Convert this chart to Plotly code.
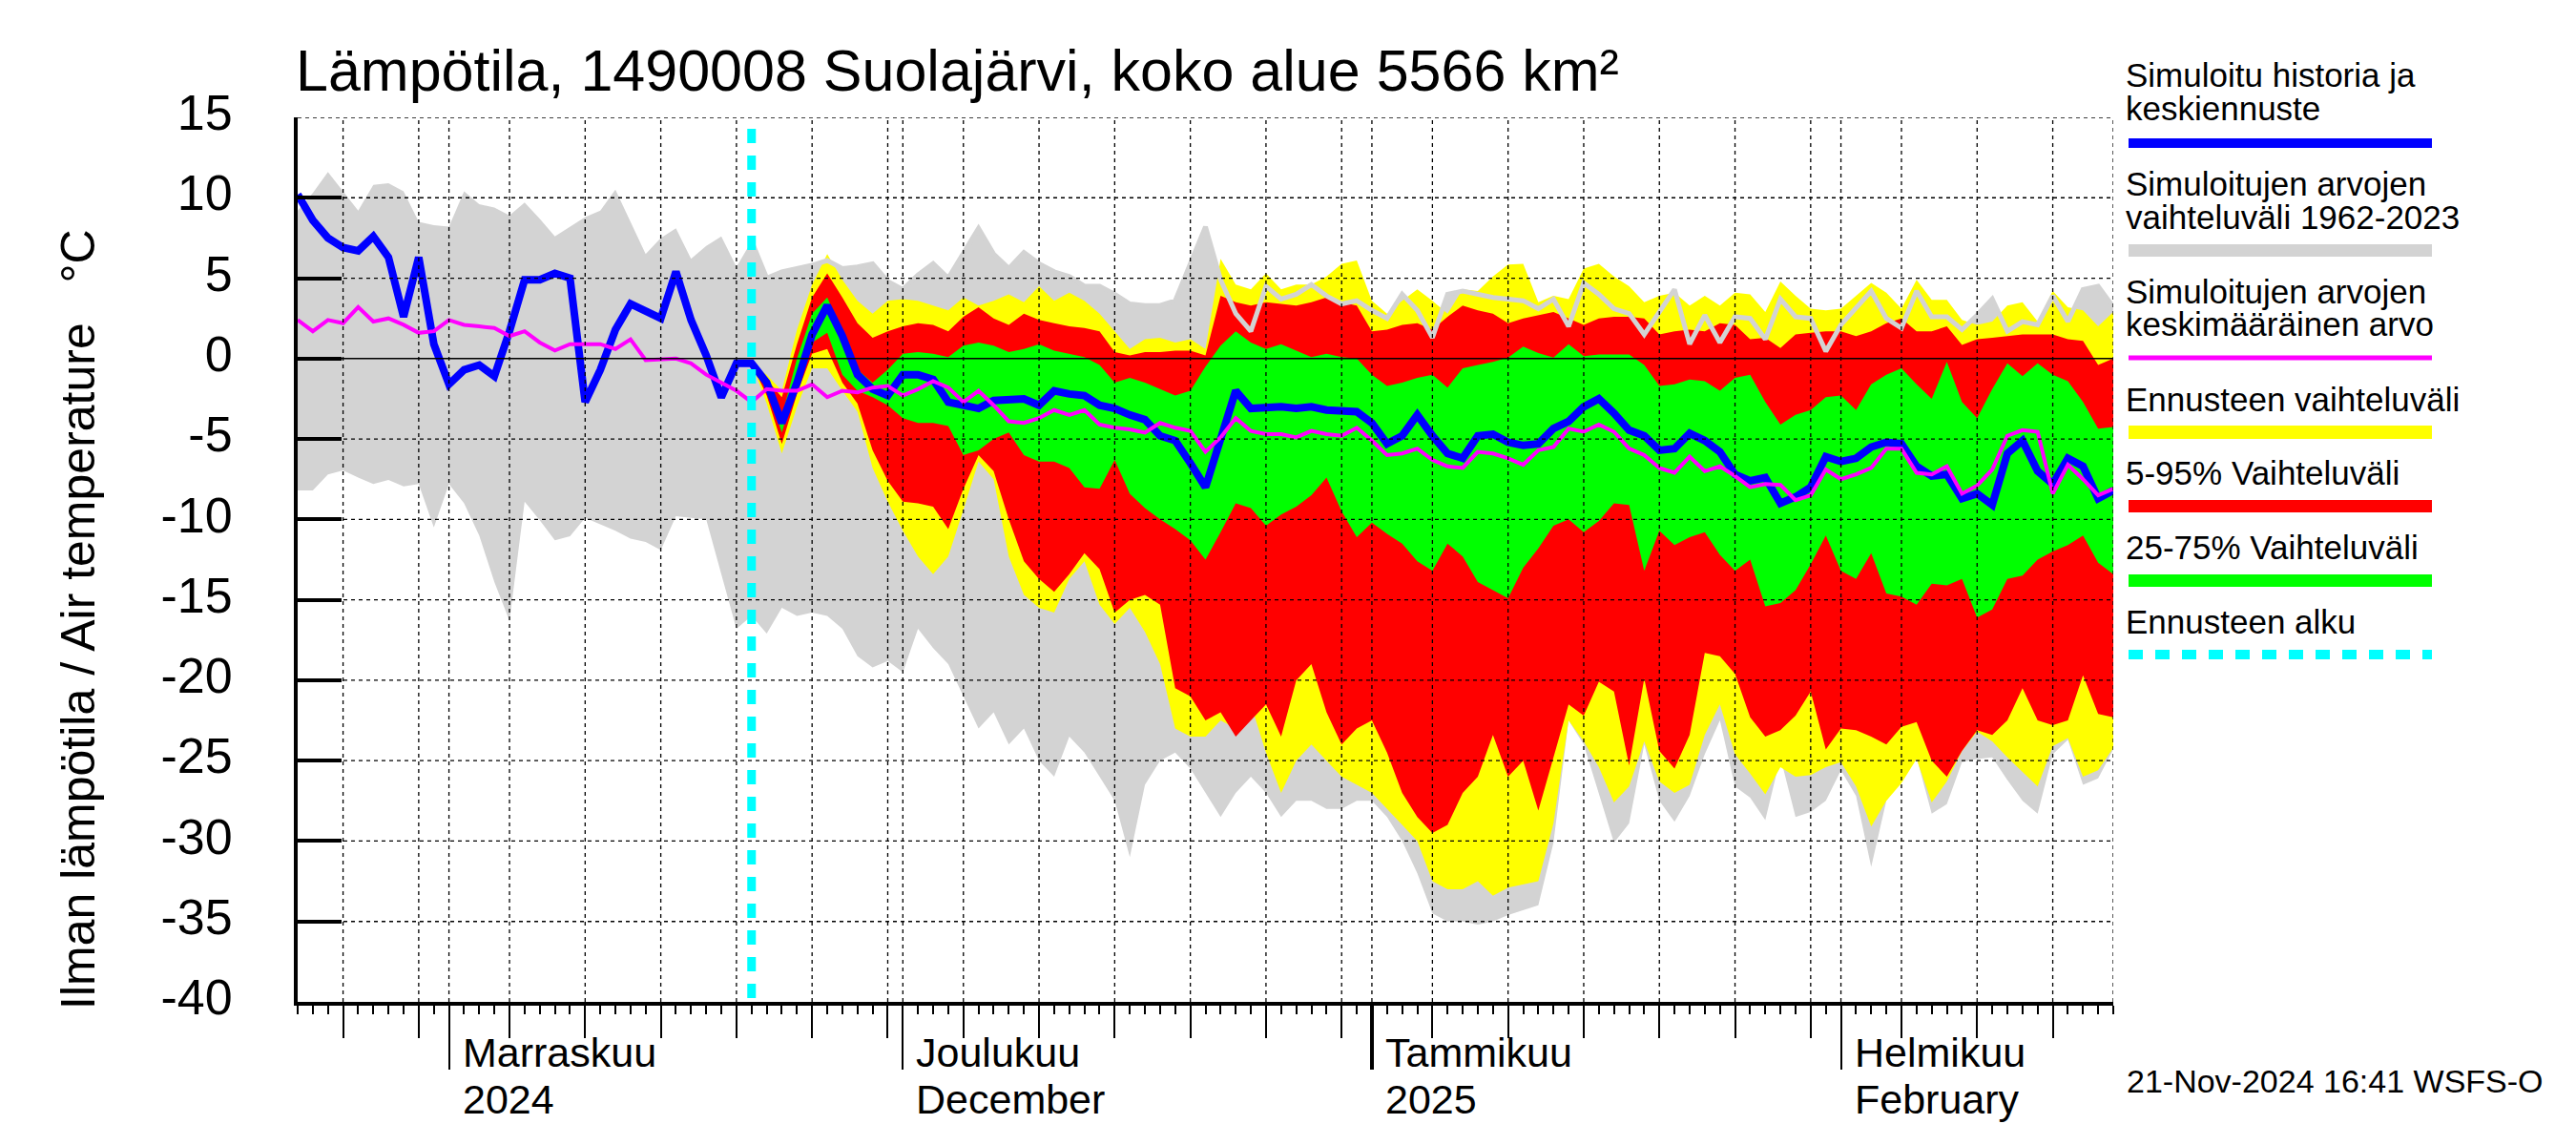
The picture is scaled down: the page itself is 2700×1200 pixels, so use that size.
import pandas as pd
import plotly.graph_objects as go

# ---------------- data (daily, 2024-10-22 .. 2025-02-19) ----------------
START = "2024-10-22"
N_DAYS = 121
FC_START = 30  # index of 2024-11-21 (forecast start)

blue = [
    10.2, 8.6, 7.5, 6.9, 6.7, 7.6, 6.3, 2.6, 6.3, 0.9,
    -1.6, -0.7, -0.4, -1.1, 1.7, 4.9, 4.9, 5.3, 5.0, -2.7,
    -0.7, 1.8, 3.4, 3.0, 2.5, 5.4, 2.4, 0.2, -2.4, -0.3,
    -0.3, -1.5, -4.0, -1.5, 1.5, 3.3, 1.4, -1.0, -1.9, -2.3,
    -1.0, -1.0, -1.3, -2.7, -2.9, -3.1, -2.6, -2.5, -2.5, -2.9,
    -2.0, -2.2, -2.3, -2.9, -3.1, -3.5, -3.8, -4.8, -5.1, -6.5,
    -8.0, -5.0, -2.0, -3.1, -3.0, -3.0, -3.1, -3.0, -3.2, -3.3,
    -3.3, -4.0, -5.3, -4.8, -3.5, -4.8, -5.9, -6.2, -4.8, -4.7,
    -5.2, -5.4, -5.3, -4.35, -3.9, -3.0, -2.5, -3.4, -4.45, -4.8,
    -5.7, -5.6, -4.65, -5.1, -5.8, -7.2, -7.6, -7.4, -9.0, -8.6,
    -8.0, -6.1, -6.4, -6.2, -5.5, -5.2, -5.3, -6.7, -7.3, -7.2,
    -8.7, -8.4, -9.1, -5.9, -5.1, -7.0, -7.8, -6.2, -6.7, -8.7,
    -8.2,
]

magenta = [
    2.4, 1.7, 2.4, 2.2, 3.2, 2.3, 2.5, 2.1, 1.6, 1.7,
    2.4, 2.1, 2.0, 1.9, 1.4, 1.7, 1.0, 0.5, 0.9, 0.9,
    0.9, 0.6, 1.2, -0.1, -0.05, 0.0, -0.3, -1.0, -1.5, -2.0,
    -2.7, -1.9, -2.0, -2.0, -1.6, -2.4, -2.0, -2.1, -1.8, -1.7,
    -2.3, -1.9, -1.4, -1.8, -2.7, -2.0, -2.9, -3.9, -4.0, -3.7,
    -3.2, -3.5, -3.2, -4.1, -4.3, -4.4, -4.6, -4.0, -4.3, -4.5,
    -5.8, -4.9, -3.7, -4.5, -4.7, -4.7, -4.9, -4.5, -4.7, -4.8,
    -4.3, -5.1, -6.0, -5.9, -5.6, -6.3, -6.7, -6.8, -5.8, -5.9,
    -6.2, -6.6, -5.7, -5.5, -4.35, -4.55, -4.1, -4.55, -5.6, -6.0,
    -6.8, -7.1, -6.1, -7.0, -6.7, -7.3, -8.0, -7.8, -7.85, -8.8,
    -8.5, -6.9, -7.5, -7.2, -6.8, -5.6, -5.6, -7.1, -7.2, -6.7,
    -8.4, -7.9, -6.9, -4.8, -4.45, -4.55, -8.4, -6.6, -7.5, -8.5,
    -8.1,
]

gray_top = [
    9.2, 10.3, 11.6, 10.4, 9.2, 10.8, 10.9, 10.4, 8.5, 8.3,
    8.2, 10.4, 9.6, 9.4, 8.9, 9.7, 8.7, 7.6, 8.2, 8.8,
    9.2, 10.5, 8.5, 6.5, 7.5, 8.1, 6.2, 7.0, 7.6, 5.7,
    7.3, 5.0, 5.4, 5.6, 5.8, 6.1, 5.6, 5.7, 5.9, 4.8,
    4.3, 5.2, 5.9, 5.0, 6.5, 8.1, 6.5, 5.6, 6.6, 5.9,
    5.4, 5.1, 4.5, 4.5, 4.0, 3.4, 3.3, 3.3, 3.6, 6.0,
    8.2, 4.9, 2.8, 1.7, 4.5, 3.7, 4.0, 4.6, 3.9, 3.4,
    3.6, 3.0, 2.5, 4.0, 3.0, 1.3, 4.0, 4.2, 4.0, 3.8,
    3.7, 3.6, 3.1, 3.7, 2.0, 4.7, 4.0, 3.1, 2.8, 1.5,
    2.9, 4.3, 0.9, 2.7, 1.0, 2.6, 2.5, 1.2, 3.7, 2.6,
    2.5, 0.45, 2.1, 3.2, 4.2, 2.5, 1.9, 4.2, 2.6, 2.6,
    1.8, 2.7, 3.7, 1.7, 2.3, 2.1, 3.9, 2.3, 4.3, 4.5,
    3.2,
]

gray_bot = [
    -8.2, -8.2, -7.2, -6.95, -7.4, -7.8, -7.55, -7.95, -7.8, -10.5,
    -7.8, -9.0, -11.0, -13.9, -16.3, -8.9, -10.05, -11.3, -11.05, -9.9,
    -10.3, -10.7, -11.2, -11.4, -11.9, -9.8, -9.9, -10.0, -13.4, -16.8,
    -16.0, -17.1, -15.5, -16.0, -15.8, -16.0, -16.8, -18.5, -19.2, -18.8,
    -19.5, -16.8, -18.0, -19.0, -21.0, -23.0, -22.0, -24.0, -23.0, -25.0,
    -26.0, -23.5, -24.5, -26.0, -27.5, -31.0, -26.5, -25.0, -24.5, -25.5,
    -27.0, -28.5, -27.0, -26.0, -27.0, -28.5, -27.5, -27.5, -28.0, -28.0,
    -27.5, -27.5, -28.5, -30.0, -32.0, -34.5, -35.0, -35.0, -35.2, -35.0,
    -34.6, -34.3, -34.0, -30.1, -22.5, -24.0, -27.0, -30.1, -28.9, -24.0,
    -27.5, -28.8, -27.2, -24.6, -22.5, -26.6, -27.3, -28.7, -24.8, -28.5,
    -28.2, -27.5, -25.6, -27.2, -31.6, -27.5, -26.2, -24.8, -28.3, -27.7,
    -25.1, -24.9, -24.8, -26.2, -27.5, -28.3, -24.6, -23.7, -26.5, -26.1,
    -24.3,
]

# forecast bands (2024-11-21 .. 2025-02-19)
yel_top = [
    -0.3, -1.0, -2.0, 1.8, 4.6, 6.5, 4.9, 3.6, 2.8, 3.6,
    3.7, 3.6, 3.3, 3.0, 3.8, 3.3, 3.6, 4.0, 3.5, 4.5,
    3.6, 4.1, 3.6, 2.8, 1.7, 0.6, 1.2, 1.3, 1.0, 1.2,
    0.6, 6.2, 4.6, 4.3, 5.3, 4.3, 4.6, 4.6, 5.1, 5.9,
    6.1, 3.6, 2.8, 3.6, 4.3, 3.6, 2.8, 4.3, 4.2, 5.1,
    5.85, 5.9, 3.5, 3.9, 3.7, 5.6, 5.9, 5.1, 4.5, 3.5,
    3.9, 4.1, 3.3, 3.9, 3.3, 4.1, 4.0, 2.9, 4.8, 3.9,
    3.1, 3.0, 3.1, 3.9, 4.7, 4.1, 3.1, 4.9, 3.65, 3.65,
    2.4, 2.1, 2.3, 3.3, 3.5, 2.3, 4.2, 3.2, 3.0, 2.0,
    2.9,
]
red_top = [
    -0.3, -1.3, -2.4, 0.9, 3.8, 5.3, 3.8, 2.2, 1.3, 1.7,
    2.0, 2.2, 2.1, 1.7, 2.6, 3.2, 2.5, 2.1, 2.8, 2.4,
    2.2, 2.0, 1.9, 1.7, 0.4, 0.2, 0.4, 0.4, 0.5, 0.5,
    0.2, 3.9, 3.5, 3.3, 3.5, 3.4, 3.3, 3.5, 3.8, 3.5,
    3.3, 1.7, 1.8, 2.1, 2.2, 1.8, 2.6, 3.3, 3.0, 2.8,
    2.2, 2.5, 2.7, 2.9, 2.5, 2.1, 2.5, 2.6, 2.6, 2.5,
    1.5, 1.7, 1.8, 1.7, 2.2, 2.1, 1.2, 1.3, 0.65, 1.5,
    1.6, 1.7, 1.7, 1.4, 1.7, 2.2, 2.5, 1.7, 1.7, 2.0,
    0.85, 1.2, 1.3, 1.4, 1.5, 1.5, 1.5, 1.2, 1.1, -0.4,
    0.0,
]
grn_top = [
    -0.3, -1.5, -3.6, 0.0, 2.8, 3.8, 1.7, -0.7, -1.5, -0.7,
    0.3, 0.4, 0.3, 0.1, 0.8, 1.0, 0.8, 0.4, 0.6, 0.9,
    0.5, 0.3, 0.1, -0.4, -1.5, -1.2, -1.5, -1.9, -2.3, -2.0,
    -0.5, 0.8, 1.7, 1.0, 0.6, 0.9, 0.5, 0.1, 0.3, 0.1,
    0.0, -1.0, -1.7, -1.5, -1.2, -1.0, -1.8, -0.6, -0.4, -0.2,
    0.06, 0.75, 0.35, 0.06, 0.9, 0.15, 0.25, 0.25, 0.25, -0.4,
    -1.7, -1.6, -1.3, -1.4, -2.0, -1.2, -1.0, -2.7, -4.1, -3.5,
    -3.2, -2.4, -2.3, -3.2, -1.6, -1.0, -0.6, -1.6, -2.5, -0.2,
    -2.7, -3.7, -1.9, -0.3, -1.1, -0.3, -1.0, -1.4, -2.7, -4.35,
    -4.25,
]
grn_bot = [
    -0.3, -1.8, -4.6, -1.4, 1.0, 1.6, -1.0, -2.0, -2.4, -2.9,
    -3.7, -4.0, -4.0, -4.2, -6.0, -5.7, -5.0, -4.6, -6.0, -6.4,
    -6.4, -6.8, -8.0, -8.1, -6.3, -8.4, -9.3, -10.0, -10.6, -11.3,
    -12.5, -10.8, -9.0, -9.3, -10.4, -9.7, -9.2, -8.5, -7.4, -9.5,
    -11.1, -10.2, -10.9, -11.5, -12.6, -13.2, -11.5, -12.3, -13.9, -14.4,
    -14.9, -13.0, -11.8, -10.4, -10.0, -10.8, -10.1, -9.0, -9.1, -13.2,
    -10.7, -11.6, -11.1, -10.8, -12.2, -13.2, -12.5, -15.4, -15.2, -14.4,
    -12.8, -11.0, -13.2, -13.7, -12.1, -14.6, -14.8, -15.3, -14.0, -14.1,
    -13.7, -16.1, -15.6, -13.7, -13.5, -12.5, -12.0, -11.6, -11.0, -12.7,
    -13.4,
]
red_bot = [
    -0.3, -2.3, -5.3, -2.2, 0.3, 0.6, -1.5, -2.8, -5.7, -7.6,
    -8.9, -9.0, -9.2, -10.6, -8.1, -6.0, -7.0, -10.0, -12.6, -13.7,
    -14.5, -13.4, -12.1, -13.1, -15.8, -15.0, -14.7, -15.3, -20.5, -21.0,
    -22.5, -22.0, -23.5, -22.5, -21.5, -23.5, -20.0, -19.0, -22.0, -24.0,
    -23.0, -22.5, -24.5, -27.0, -28.5, -29.5, -29.0, -27.0, -26.0, -23.4,
    -26.0, -25.0, -28.1, -24.8, -21.5, -22.2, -20.1, -20.7, -25.3, -19.9,
    -24.4, -25.5, -23.4, -18.3, -18.5, -19.6, -22.3, -23.5, -23.1, -22.2,
    -20.7, -24.3, -23.0, -23.1, -23.5, -24.0, -22.9, -22.6, -25.0, -26.0,
    -24.4, -23.1, -23.4, -22.5, -20.5, -22.5, -22.8, -22.5, -19.7, -22.1,
    -22.3,
]
yel_bot = [
    -0.3, -2.8, -5.9, -3.0, -0.6, -0.6, -2.0, -3.3, -6.8, -8.9,
    -10.7, -12.3, -13.4, -12.3, -9.4, -6.4, -7.5, -12.3, -14.7, -15.5,
    -15.8, -13.7, -12.6, -15.3, -16.5, -15.5, -17.0, -19.0, -23.0, -23.5,
    -23.5, -22.5, -23.0, -21.5, -24.5, -27.0, -25.0, -24.0, -25.0, -26.0,
    -26.5, -27.0, -28.0, -29.0, -30.0, -32.5, -33.0, -33.0, -32.5, -33.4,
    -32.9, -32.7, -32.5, -28.9, -22.5, -23.8, -25.4, -27.6, -26.6, -23.8,
    -26.3, -27.0, -26.5, -23.4, -21.5, -24.6, -25.8, -27.1, -25.4, -26.0,
    -25.9, -25.4, -25.1, -26.6, -29.1, -27.5, -26.4, -24.9, -27.6, -26.3,
    -24.4, -23.2, -23.8, -24.8, -25.7, -26.6, -24.1, -23.6, -26.0, -25.6,
    -24.2,
]

y_ticks = [15, 10, 5, 0, -5, -10, -15, -20, -25, -30, -35, -40]
y_ticktext = ["15", "10", "5", "0", "-5", "-10", "-15", "-20", "-25", "-30", "-35", "-40"]

month_labels = [
    ("2024-11-01", "Marraskuu", "2024"),
    ("2024-12-01", "Joulukuu", "December"),
    ("2025-01-01", "Tammikuu", "2025"),
    ("2025-02-01", "Helmikuu", "February"),
]

legend_items = [
    (["Simuloitu historia ja", "keskiennuste"], "#0000FF", 10, None),
    (["Simuloitujen arvojen", "vaihteluväli 1962-2023"], "#D3D3D3", 13, None),
    (["Simuloitujen arvojen", "keskimääräinen arvo"], "#FF00FF", 5, None),
    (["Ennusteen vaihteluväli"], "#FFFF00", 14, None),
    (["5-95% Vaihteluväli"], "#FF0000", 13, None),
    (["25-75% Vaihteluväli"], "#00FF00", 13, None),
    (["Ennusteen alku"], "#00FFFF", 10, "15px,13px"),
]

title_text = "Lämpötila, 1490008 Suolajärvi, koko alue 5566 km²"
ylabel_text = "Ilman lämpötila / Air temperature   °C"
stamp_text = "21-Nov-2024 16:41 WSFS-O"

# ---------------- derived ----------------
dates = pd.date_range(START, periods=N_DAYS, freq="D")
x_all = [d.strftime("%Y-%m-%d") for d in dates]
x_fc = x_all[FC_START:]
x_min, x_max = x_all[0], x_all[-1]
forecast_start = x_all[FC_START]

W_IMG, H_IMG = 2700, 1200
L, R, T, B = 304, 2207, 115, 1042
PW, PH = R - L, B - T


def px(X):
    return (X - L) / PW


def py(Y):
    return (B - Y) / PH


FONT = "Liberation Sans, Arial, sans-serif"

# grid dates: every 5th day of month (5..30) and month starts
grid_dates = []
month_starts = []
for d in dates:
    if d.day == 1:
        month_starts.append(d.strftime("%Y-%m-%d"))
        grid_dates.append(d.strftime("%Y-%m-%d"))
    elif d.day % 5 == 0:
        grid_dates.append(d.strftime("%Y-%m-%d"))

fig = go.Figure()


def band(xs, top, bot, color):
    fig.add_trace(go.Scatter(
        x=list(xs) + list(xs)[::-1], y=list(top) + list(bot)[::-1],
        fill="toself", fillcolor=color, line=dict(width=0, color=color),
        mode="lines", hoverinfo="skip", showlegend=False))


band(x_all, gray_top, gray_bot, "#D3D3D3")
band(x_fc, yel_top, yel_bot, "#FFFF00")
band(x_fc, red_top, red_bot, "#FF0000")
band(x_fc, grn_top, grn_bot, "#00FF00")

fig.add_trace(go.Scatter(x=x_fc, y=gray_top[FC_START:], mode="lines",
                         line=dict(color="#D3D3D3", width=5), hoverinfo="skip", showlegend=False))
fig.add_trace(go.Scatter(x=x_all, y=blue, mode="lines",
                         line=dict(color="#0000FF", width=8), showlegend=False))
fig.add_trace(go.Scatter(x=x_all, y=magenta, mode="lines",
                         line=dict(color="#FF00FF", width=4), showlegend=False))

# dummy traces to host tick-only overlay axes
fig.add_trace(go.Scatter(x=[x_min], y=[None], xaxis="x2", showlegend=False, hoverinfo="skip"))
fig.add_trace(go.Scatter(x=[x_min], y=[None], xaxis="x3", showlegend=False, hoverinfo="skip"))

shapes = []
# horizontal grid
for v in y_ticks:
    if v == -40:
        continue
    if v == 0:
        shapes.append(dict(type="line", xref="paper", yref="y", x0=0, x1=1, y0=0, y1=0,
                           line=dict(color="black", width=1.5), layer="above"))
    else:
        shapes.append(dict(type="line", xref="paper", yref="y", x0=0, x1=1, y0=v, y1=v,
                           line=dict(color="black", width=1.3, dash="4px,4px"), layer="above"))
# vertical grid
for g in grid_dates + [x_max]:
    shapes.append(dict(type="line", xref="x", yref="paper", x0=g, x1=g, y0=0, y1=1,
                       line=dict(color="black", width=1.3, dash="4px,4px"), layer="above"))
# forecast start
shapes.append(dict(type="line", xref="x", yref="paper", x0=forecast_start, x1=forecast_start,
                   y0=py(127), y1=0, line=dict(color="#00FFFF", width=9, dash="15px,13px"),
                   layer="above"))

annotations = []
# title
annotations.append(dict(text=title_text, xref="paper", yref="paper", x=px(300), y=py(87 - 0.3465 * 61),
                        xanchor="left", yanchor="middle", showarrow=False,
                        font=dict(family=FONT, size=61, color="black")))
# y label
annotations.append(dict(text=ylabel_text, xref="paper", yref="paper", x=px(74), y=py(641),
                        xanchor="center", yanchor="middle", textangle=-90, showarrow=False,
                        font=dict(family=FONT, size=50, color="black")))
# month labels (two separate lines, tight spacing)
for mdate, l1, l2 in month_labels:
    for txt, base in ((l1, 1110), (l2, 1159)):
        annotations.append(dict(text=txt, xref="x", yref="paper", x=mdate, xshift=13,
                                y=py(base - 0.3465 * 43), xanchor="left", yanchor="middle",
                                showarrow=False, borderpad=0,
                                font=dict(family=FONT, size=43, color="black")))
# legend
leg_base = [(83, 118), (197, 232), (310, 344), (423,), (500,), (578,), (656,)]
leg_swatch_y = [142, 254.5, 367, 445, 522.5, 600.5, 678]
for (lines, color, width, dash), bases, sy in zip(legend_items, leg_base, leg_swatch_y):
    for txt, base in zip(lines, bases):
        annotations.append(dict(text=txt, xref="paper", yref="paper", x=px(2219),
                                y=py(base - 0.3465 * 35), xanchor="left", yanchor="middle",
                                showarrow=False, borderpad=0,
                                font=dict(family=FONT, size=35, color="black")))
    ln = dict(color=color, width=width)
    if dash:
        ln["dash"] = dash
    shapes.append(dict(type="line", xref="paper", yref="paper", x0=px(2223), x1=px(2541),
                       y0=py(sy), y1=py(sy), line=ln))
# timestamp
annotations.append(dict(text=stamp_text, xref="paper", yref="paper", x=px(2219),
                        y=py(1137 - 0.3465 * 34), xanchor="left", yanchor="middle",
                        showarrow=False, font=dict(family=FONT, size=34, color="black")))

jan1 = [m for m in month_starts if m.endswith("-01-01")]
other_months = [m for m in month_starts if not m.endswith("-01-01")]

fig.update_layout(
    width=W_IMG, height=H_IMG,
    margin=dict(l=L, r=W_IMG - R, t=T, b=H_IMG - B, pad=0),
    paper_bgcolor="white", plot_bgcolor="white",
    font=dict(family=FONT, color="black"),
    showlegend=False,
    shapes=shapes, annotations=annotations,
    xaxis=dict(type="date", range=[x_min, x_max], showgrid=False, zeroline=False,
               tickmode="array", tickvals=grid_dates, ticks="outside", ticklen=34,
               tickwidth=1.5, tickcolor="black", showticklabels=False,
               showline=True, linewidth=4, linecolor="black",
               minor=dict(dtick=86400000, tick0=x_min, ticks="outside", ticklen=9,
                          tickwidth=1.5, tickcolor="black", showgrid=False),
               fixedrange=True),
    xaxis2=dict(type="date", range=[x_min, x_max], overlaying="x", anchor="y", side="bottom",
                showgrid=False, zeroline=False, showline=False, tickmode="array",
                tickvals=other_months, ticks="outside", ticklen=70, tickwidth=1.5,
                tickcolor="black", showticklabels=False, fixedrange=True),
    xaxis3=dict(type="date", range=[x_min, x_max], overlaying="x", anchor="y", side="bottom",
                showgrid=False, zeroline=False, showline=False, tickmode="array",
                tickvals=jan1, ticks="outside", ticklen=70, tickwidth=4,
                tickcolor="black", showticklabels=False, fixedrange=True),
    yaxis=dict(range=[-40, 15], showgrid=False, zeroline=False, tickmode="array",
               tickvals=y_ticks, ticktext=y_ticktext, ticks="inside", ticklen=46,
               tickwidth=3.5, tickcolor="black", showline=True, linewidth=4,
               linecolor="black", ticklabelstandoff=54, ticklabelshift=-5,
               tickfont=dict(family=FONT, size=52, color="black"), fixedrange=True),
)

fig.write_html("out.html")
